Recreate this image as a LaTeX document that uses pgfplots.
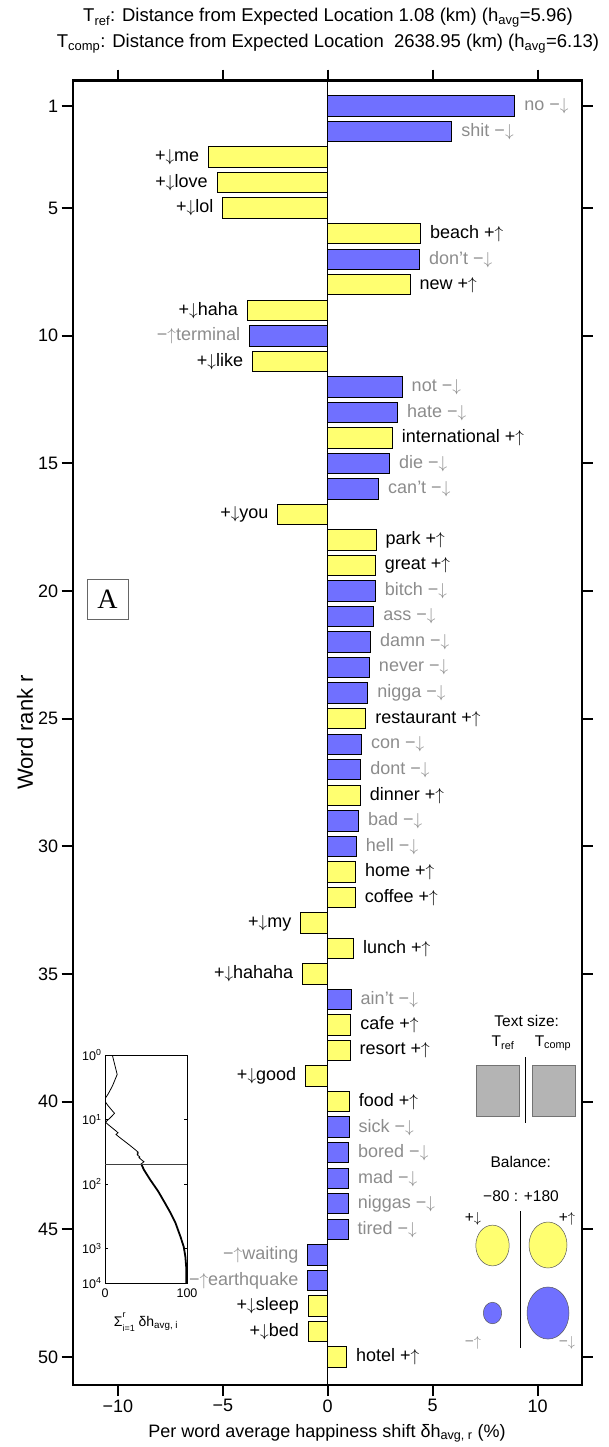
\documentclass[border=0pt]{standalone}
\usepackage{fontspec}
\setmainfont{Liberation Sans}
\newfontfamily\seriffont{Liberation Serif}
\usepackage{pgfplots}
\pgfplotsset{compat=1.18}

\definecolor{shiftblue}{RGB}{112,112,255}
\definecolor{shiftyellow}{RGB}{255,255,112}
\definecolor{labelgray}{RGB}{140,140,140}
\definecolor{boxgray}{RGB}{180,180,180}

\newcommand{\fs}[1]{\fontsize{#1}{#1}\selectfont}
\newcommand{\up}{$\uparrow$}
\newcommand{\dn}{$\downarrow$}

\begin{document}
\begin{tikzpicture}[x=1pt,y=1pt]
\path[use as bounding box] (0,0) rectangle (608,-1447);

% ---------------- main word-shift axis ----------------
\begin{axis}[
  at={(72.7pt,-80.5pt)}, anchor=north west,
  scale only axis, width=509pt, height=1304.5pt,
  xmin=-12.15, xmax=12.1, ymin=0, ymax=51.1,
  y dir=reverse,
  xtick={-10,-5,0,5,10}, xticklabels={−10,−5,0,5,10},
  ytick={1,5,10,15,20,25,30,35,40,45,50},
  tick align=outside, xtick pos=both, ytick pos=both,
  xticklabel pos=lower, yticklabel pos=left,
  major tick length=11pt,
  every tick/.style={black, line width=2pt},
  axis line style={line width=2.4pt},
  tick label style={font=\fs{18}},
  /pgf/number format/assume math mode=true,
  bar width=0.8,
  every node near coord/.append style={font=\fs{18}, inner xsep=0pt, inner ysep=0pt},
]
% positive shifts, more positive words (+ up)
\addplot[xbar, bar shift=0pt, fill=shiftyellow, draw=black, line width=1pt,
  point meta=explicit symbolic,
  nodes near coords={\pgfplotspointmeta\ +\up},
  nodes near coords align={anchor=west},
  every node near coord/.append style={text=black, anchor=west, xshift=9pt}]
coordinates {
 (4.42,6)[beach] (3.92,8)[new] (3.08,14)[international] (2.30,18)[park]
 (2.27,19)[great] (1.82,25)[restaurant] (1.55,28)[dinner] (1.33,31)[home]
 (1.32,32)[coffee] (1.23,34)[lunch] (1.10,37)[cafe] (1.07,38)[resort]
 (1.03,40)[food] (0.90,50)[hotel]
};
% positive shifts, fewer negative words (- down)
\addplot[xbar, bar shift=0pt, fill=shiftblue, draw=black, line width=1pt,
  point meta=explicit symbolic,
  nodes near coords={\pgfplotspointmeta\ −\dn},
  nodes near coords align={anchor=west},
  every node near coord/.append style={text=labelgray, anchor=west, xshift=9pt}]
coordinates {
 (8.92,1)[no] (5.92,2)[shit] (4.38,7)[don't] (3.55,12)[not] (3.33,13)[hate]
 (2.95,15)[die] (2.43,16)[can't] (2.27,20)[bitch] (2.20,21)[ass]
 (2.04,22)[damn] (1.99,23)[never] (1.91,24)[nigga] (1.61,26)[con]
 (1.58,27)[dont] (1.47,29)[bad] (1.37,30)[hell] (1.12,36)[ain't]
 (1.02,41)[sick] (1.00,42)[bored] (1.00,43)[mad] (0.98,44)[niggas]
 (0.97,45)[tired]
};
% negative shifts, fewer positive words (+ down)
\addplot[xbar, bar shift=0pt, fill=shiftyellow, draw=black, line width=1pt,
  point meta=explicit symbolic,
  nodes near coords={+\dn\pgfplotspointmeta},
  nodes near coords align={anchor=east},
  every node near coord/.append style={text=black, anchor=east, xshift=-9pt}]
coordinates {
 (-5.67,3)[me] (-5.27,4)[love] (-5.00,5)[lol] (-3.83,9)[haha] (-3.58,11)[like]
 (-2.37,17)[you] (-1.28,33)[my] (-1.19,35)[hahaha] (-1.05,39)[good]
 (-0.92,48)[sleep] (-0.92,49)[bed]
};
% negative shifts, more negative words (- up)
\addplot[xbar, bar shift=0pt, fill=shiftblue, draw=black, line width=1pt,
  point meta=explicit symbolic,
  nodes near coords={−\up\pgfplotspointmeta},
  nodes near coords align={anchor=east},
  every node near coord/.append style={text=labelgray, anchor=east, xshift=-9pt}]
coordinates {
 (-3.72,10)[terminal] (-0.95,46)[waiting] (-0.95,47)[earthquake]
};
\draw[black, line width=1pt] (axis cs:0,0) -- (axis cs:0,51.1);
\end{axis}

% ---------------- cumulative shift inset ----------------
\begin{axis}[
  at={(105pt,-1055pt)}, anchor=north west,
  scale only axis, width=82pt, height=228pt,
  xmin=0, xmax=100, ymin=1, ymax=3400,
  ymode=log, y dir=reverse,
  xtick={0,100}, xticklabels={0,100},
  ytick={1,10,100,1000,3400},
  yticklabels={10\textsuperscript{0},10\textsuperscript{1},10\textsuperscript{2},10\textsuperscript{3},10\textsuperscript{4}},
  yminorticks=false,
  tick align=inside, major tick length=3pt,
  xtick pos=both, ytick pos=both,
  xticklabel pos=lower, yticklabel pos=left,
  every tick/.style={black, line width=0.6pt},
  axis line style={line width=0.8pt},
  axis background/.style={fill=white},
  tick label style={font=\fs{12.5}},
  xticklabel style={yshift=-2pt},
]
\addplot[black, line width=0.8pt] coordinates {
 (8.92,1) (14.84,2) (9.17,3) (3.90,4) (-1.10,5) (3.32,6) (7.70,7) (11.62,8)
 (7.79,9) (4.07,10) (0.49,11) (4.04,12) (7.37,13) (10.45,14) (13.40,15)
 (15.83,16) (13.46,17) (15.76,18) (18.03,19) (20.30,20) (22.50,21) (24.54,22)
 (26.53,23) (28.44,24) (30.26,25) (31.87,26) (33.45,27) (35.00,28) (36.47,29)
 (37.84,30) (39.17,31) (40.49,32) (39.21,33) (40.44,34) (39.25,35) (40.37,36)
 (41.47,37) (42.54,38) (41.49,39) (42.52,40) (43.54,41) (44.54,42) (45.54,43)
 (46.52,44) (47.49,45) (46.54,46) (45.59,47) (44.67,48) (43.75,49) (44.65,50)
};
\addplot[black, line width=1.8pt] coordinates {
 (44.65,50) (47.5,60) (55,85) (65,130) (73,195) (80,280) (86,400) (92,650)
 (96,930) (98,1330) (99,1900) (99,3400)
};
\draw[black!75, line width=1.3pt] (axis cs:0,50) -- (axis cs:100,50);
\end{axis}

% ---------------- legend glyphs (text size and balance) ----------------
\begin{axis}[
  at={(0pt,0pt)}, anchor=north west,
  scale only axis, width=608pt, height=1447pt,
  xmin=0, xmax=608, ymin=-1447, ymax=0,
  hide axis, clip=false,
]
\addplot[fill=boxgray, draw=black!55, line width=0.7pt] coordinates
  {(476,-1065) (519.3,-1065) (519.3,-1116.7) (476,-1116.7)} -- cycle;
\addplot[fill=boxgray, draw=black!55, line width=0.7pt] coordinates
  {(532.7,-1065) (575,-1065) (575,-1116.7) (532.7,-1116.7)} -- cycle;
\addplot[black, line width=0.9pt] coordinates {(525.7,-1057) (525.7,-1123)};
\addplot[black, line width=0.9pt] coordinates {(520.7,-1211) (520.7,-1348)};
% balance ellipses: +down, +up, -up, -down
\addplot[only marks, mark=*, mark size=16.7pt,
  mark options={yscale=1.22, fill=shiftyellow, draw=black!65, line width=0.5pt}]
  coordinates {(492.5,-1245.5)};
\addplot[only marks, mark=*, mark size=19pt,
  mark options={yscale=1.21, fill=shiftyellow, draw=black!65, line width=0.5pt}]
  coordinates {(548,-1245)};
\addplot[only marks, mark=*, mark size=9.2pt,
  mark options={yscale=1.17, fill=shiftblue, draw=black!65, line width=0.5pt}]
  coordinates {(492.5,-1313)};
\addplot[only marks, mark=*, mark size=21pt,
  mark options={yscale=1.24, fill=shiftblue, draw=black!65, line width=0.5pt}]
  coordinates {(548,-1313)};
\end{axis}

% ---------------- titles, labels and legend text ----------------
\node[font=\fs{18.5}, anchor=base] at (328,-22)
  {T\textsubscript{ref}: Distance from Expected Location 1.08 (km) (h\textsubscript{avg}=5.96)};
\node[font=\fs{18.5}, anchor=base] at (328,-48)
  {T\textsubscript{comp}: Distance from Expected Location\ \ 2638.95 (km) (h\textsubscript{avg}=6.13)};
\node[font=\fs{18}, anchor=base] at (327,-1437)
  {Per word average happiness shift δh\textsubscript{avg, r} (\%)};
\node[font=\fs{22}, rotate=90] at (25,-732.5) {Word rank r};
\node[draw=black!60, line width=0.8pt, minimum width=41pt, minimum height=40pt,
  inner sep=0pt, font=\seriffont\fs{28}] at (107.5,-599) {A};
\node[font=\fs{14}, anchor=base] at (146,-1326)
  {Σ\rlap{\raisebox{1.1ex}{\fs{9}r}}\raisebox{-0.7ex}{\fs{9}i=1}\ δh\textsubscript{avg, i}};

\node[font=\fs{15.5}] at (526.7,-1021) {Text size:};
\node[font=\fs{15.5}] at (503,-1043) {T\textsubscript{ref}};
\node[font=\fs{15.5}] at (553,-1043) {T\textsubscript{comp}};
\node[font=\fs{15.5}] at (520.7,-1162) {Balance:};
\node[font=\fs{15.5}] at (521,-1196) {−80 : +180};
\node[font=\fs{15.5}] at (473,-1219) {+\dn};
\node[font=\fs{15.5}] at (567,-1219) {+\up};
\node[font=\fs{15.5}, text=labelgray] at (473,-1343) {−\up};
\node[font=\fs{15.5}, text=labelgray] at (567,-1343) {−\dn};
\end{tikzpicture}
\end{document}
